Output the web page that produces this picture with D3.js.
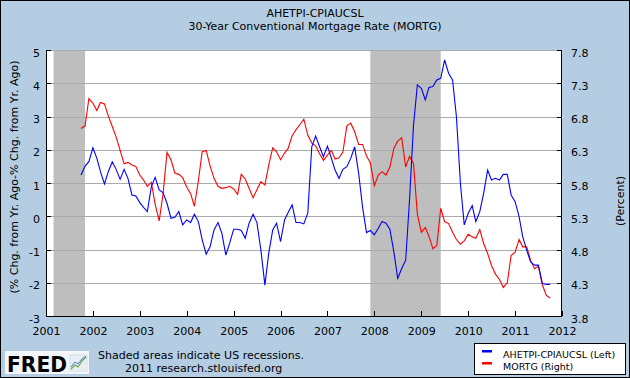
<!DOCTYPE html>
<html><head><meta charset="utf-8">
<script src="https://cdn.jsdelivr.net/npm/d3@7/dist/d3.min.js"></script>
<style>
html,body{margin:0;padding:0;background:#fff;}
svg{display:block;}
text{font-family:"DejaVu Sans",Verdana,sans-serif;fill:#000;}
</style></head><body>
<svg id="chart" width="630" height="378"></svg>
<script>
// ---------- DATA ----------
const firstMonth = "2001-10-01";   // monthly observations start
const titleLines = ["AHETPI-CPIAUCSL", "30-Year Conventional Mortgage Rate (MORTG)"];
const seriesNames = ["AHETPI-CPIAUCSL (Left)", "MORTG (Right)"];
// AHETPI % chg from yr ago minus CPIAUCSL % chg from yr ago (left axis)
const wageGap = [
  1.24, 1.51, 1.64,
  2.06, 1.74, 1.34, 0.97, 1.34, 1.64, 1.41, 1.11, 1.41, 1.14, 0.64, 0.61,
  0.41, 0.26, 0.14, 0.89, 1.17, 0.79, 0.71, 0.39, -0.06, -0.03, 0.14, -0.26,
  -0.11, -0.19, 0.06, -0.16, -0.71, -1.14, -0.92, -0.41, -0.19, -0.51, -1.17, -0.81,
  -0.39, -0.39, -0.43, -0.66, -0.21, 0.06, -0.19, -1.02, -2.07, -1.11, -0.41, -0.21,
  -0.76, -0.11, 0.11, 0.34, -0.19, -0.19, -0.23, 0.09, 2.09, 2.41, 2.09, 1.79,
  2.11, 1.74, 1.39, 1.14, 1.41, 1.49, 1.74, 2.09, 1.29, 0.29, -0.49, -0.43,
  -0.56, -0.36, -0.16, -0.21, -0.39, -1.07, -1.87, -1.57, -1.32, 0.49, 2.74, 3.95,
  3.85, 3.50, 3.87, 3.90, 4.10, 4.15, 4.70, 4.30, 4.10, 3.00, 0.99, -0.26,
  0.09, 0.32, -0.16, 0.14, 0.69, 1.39, 1.09, 1.14, 1.09, 1.26, 1.26, 0.64,
  0.44, -0.01, -0.61, -1.02, -1.37, -1.47, -1.47, -2.02, -2.05, -2.05
];
// 30-year conventional mortgage rate, percent (right axis)
const mortgageRate = [
  6.62, 6.66, 7.07,
  7.00, 6.89, 7.01, 6.99, 6.81, 6.65, 6.49, 6.29, 6.09, 6.11, 6.07, 6.05,
  5.92, 5.84, 5.75, 5.81, 5.48, 5.23, 5.63, 6.26, 6.15, 5.95, 5.93, 5.88,
  5.74, 5.64, 5.45, 5.83, 6.27, 6.29, 6.06, 5.87, 5.75, 5.72, 5.73, 5.75,
  5.71, 5.63, 5.93, 5.86, 5.72, 5.58, 5.70, 5.82, 5.77, 6.07, 6.33, 6.27,
  6.15, 6.25, 6.32, 6.51, 6.60, 6.68, 6.76, 6.52, 6.40, 6.36, 6.24, 6.14,
  6.22, 6.29, 6.16, 6.18, 6.26, 6.66, 6.70, 6.57, 6.38, 6.38, 6.21, 6.10,
  5.76, 5.92, 5.97, 5.92, 6.04, 6.32, 6.43, 6.48, 6.04, 6.20, 6.09, 5.33,
  5.06, 5.13, 5.00, 4.81, 4.86, 5.42, 5.22, 5.19, 5.06, 4.95, 4.88, 4.93,
  5.03, 4.99, 4.97, 5.10, 4.89, 4.74, 4.56, 4.43, 4.35, 4.23, 4.30, 4.71,
  4.76, 4.95, 4.84, 4.84, 4.64, 4.51, 4.55, 4.27, 4.11, 4.07
];
const recessions = [["2001-03-01", "2001-11-01"], ["2007-12-01", "2009-06-01"]];
const yearTicks = [2001, 2002, 2003, 2004, 2005, 2006, 2007, 2008, 2009, 2010, 2011, 2012];
const leftTicks = [-3, -2, -1, 0, 1, 2, 3, 4, 5];
const rightTicks = [3.8, 4.3, 4.8, 5.3, 5.8, 6.3, 6.8, 7.3, 7.8];
const leftTitle = "(% Chg. from Yr. Ago-% Chg. from Yr. Ago)";
const rightTitle = "(Percent)";
const noteLines = ["Shaded areas indicate US recessions.", "2011 research.stlouisfed.org"];

// ---------- LAYOUT ----------
const W = 630, H = 378;
const P = {l: 46, r: 562, t: 50, b: 316};
const BG = "#b4cde3";
const svg = d3.select("#chart");

svg.append("rect").attr("width", W).attr("height", H).attr("fill", BG);
svg.append("rect").attr("x", 0.5).attr("y", 0.5).attr("width", W - 1).attr("height", H - 1)
  .attr("fill", "none").attr("stroke", "#000");

const parse = d3.utcParse("%Y-%m-%d");
const x = d3.scaleUtc().domain([Date.UTC(2001, 0, 1), Date.UTC(2012, 0, 1)]).range([P.l, P.r]);
const yL = d3.scaleLinear().domain([-3, 5]).range([P.b, P.t]);
const yR = d3.scaleLinear().domain([3.8, 7.8]).range([P.b, P.t]);

const start = parse(firstMonth);
const dates = wageGap.map((_, i) => d3.utcMonth.offset(start, i));

// plot area
svg.append("rect").attr("x", P.l).attr("y", P.t).attr("width", P.r - P.l).attr("height", P.b - P.t)
  .attr("fill", "#fff");

// recessions
svg.append("g").selectAll("rect").data(recessions).join("rect")
  .attr("x", d => x(parse(d[0])))
  .attr("width", d => x(parse(d[1])) - x(parse(d[0])))
  .attr("y", P.t).attr("height", P.b - P.t)
  .attr("fill", "#bebebe");

// gridlines
const grid = svg.append("g").attr("transform", `translate(${P.l},0)`)
  .call(d3.axisLeft(yL).tickValues(leftTicks).tickSize(-(P.r - P.l)).tickFormat(""));
grid.select(".domain").remove();
grid.selectAll("line").attr("stroke", "#aaaaaa").attr("shape-rendering", "crispEdges");

// lines
const lineR = d3.line().x((d, i) => x(dates[i])).y(d => yR(d));
const lineL = d3.line().x((d, i) => x(dates[i])).y(d => yL(d));
svg.append("path").datum(mortgageRate).attr("d", lineR)
  .attr("fill", "none").attr("stroke", "#ff0000").attr("stroke-width", 1.1);
svg.append("path").datum(wageGap).attr("d", lineL)
  .attr("fill", "none").attr("stroke", "#0000ff").attr("stroke-width", 1.1);

// frame
const frame = svg.append("g").attr("stroke", "#000").attr("shape-rendering", "crispEdges");
frame.append("line").attr("x1", P.l + 0.5).attr("x2", P.l + 0.5).attr("y1", P.t).attr("y2", P.b + 1);
frame.append("line").attr("x1", P.r - 0.5).attr("x2", P.r - 0.5).attr("y1", P.t).attr("y2", P.b + 1);
frame.append("line").attr("x1", P.l).attr("x2", P.r).attr("y1", P.b + 0.5).attr("y2", P.b + 0.5);

// axes
const fontSize = 11;
const axL = svg.append("g").attr("transform", `translate(${P.l},0)`)
  .call(d3.axisLeft(yL).tickValues(leftTicks).tickSize(-5).tickPadding(6).tickFormat(d => String(d)));
const axR = svg.append("g").attr("transform", `translate(${P.r},0)`)
  .call(d3.axisRight(yR).tickValues(rightTicks).tickSize(-5).tickPadding(9).tickFormat(d3.format(".1f")));
const axX = svg.append("g").attr("transform", `translate(0,${P.b})`)
  .call(d3.axisBottom(x).tickValues(yearTicks.map(yv => Date.UTC(yv, 0, 1))).tickSize(-5).tickPadding(11)
    .tickFormat(d => d3.utcFormat("%Y")(d)));
[axL, axR, axX].forEach(a => {
  a.select(".domain").remove();
  a.selectAll("line").attr("stroke", "#000").attr("shape-rendering", "crispEdges");
  a.selectAll("text").attr("font-family", "DejaVu Sans, Verdana, sans-serif")
    .attr("font-size", fontSize).attr("fill", "#000");
});
axL.selectAll("text").attr("dy", "0.55em");
axR.selectAll("text").attr("dy", "0.55em");

// titles
svg.append("g").selectAll("text").data(titleLines).join("text")
  .attr("x", 315).attr("y", (d, i) => 17 + i * 13)
  .attr("text-anchor", "middle").attr("font-size", 11).text(d => d);

svg.append("text").attr("transform", "translate(18,177) rotate(-90)")
  .attr("text-anchor", "middle").attr("font-size", 11).text(leftTitle);
svg.append("text").attr("transform", "translate(624,201) rotate(-90)")
  .attr("text-anchor", "middle").attr("font-size", 11).text(rightTitle);

// notes
svg.append("text").attr("x", 98).attr("y", 359).attr("font-size", 11).text(noteLines[0]);
svg.append("text").attr("x", 125).attr("y", 372).attr("font-size", 11).text(noteLines[1]);

// FRED logo
const logo = svg.append("g");
logo.append("rect").attr("x", 5).attr("y", 351).attr("width", 84).attr("height", 23).attr("fill", "#f2f5f9");
logo.append("text").attr("x", 7).attr("y", 372).attr("font-size", 22).attr("font-weight", "bold")
  .attr("textLength", 60).attr("lengthAdjust", "spacingAndGlyphs").attr("fill", "#111").text("FRED");
logo.append("rect").attr("x", 70).attr("y", 355).attr("width", 17).attr("height", 16)
  .attr("fill", "#e8eef4").attr("stroke", "#c8d2dc").attr("stroke-width", 0.6);
logo.append("path").attr("d", "M71,369 L75,365 L78,367 L82,361 L86,357")
  .attr("fill", "none").attr("stroke", "#6aa84f").attr("stroke-width", 1.2);
logo.append("path").attr("d", "M71,367 L75,362 L78,364 L82,359 L86,356")
  .attr("fill", "none").attr("stroke", "#4a7fc0").attr("stroke-width", 1);

// legend
const lg = svg.append("g");
lg.append("rect").attr("x", 474.5).attr("y", 343.5).attr("width", 151).attr("height", 31)
  .attr("fill", "#fff").attr("stroke", "#000");
const colors = ["#0000ff", "#ff0000"];
seriesNames.forEach((n, i) => {
  lg.append("rect").attr("x", 482).attr("y", 350 + i * 12).attr("width", 10).attr("height", 2.5).attr("fill", colors[i]);
  lg.append("text").attr("x", 503).attr("y", 358 + i * 11.5).attr("font-size", 9.5).text(n);
});
</script>
</body></html>
